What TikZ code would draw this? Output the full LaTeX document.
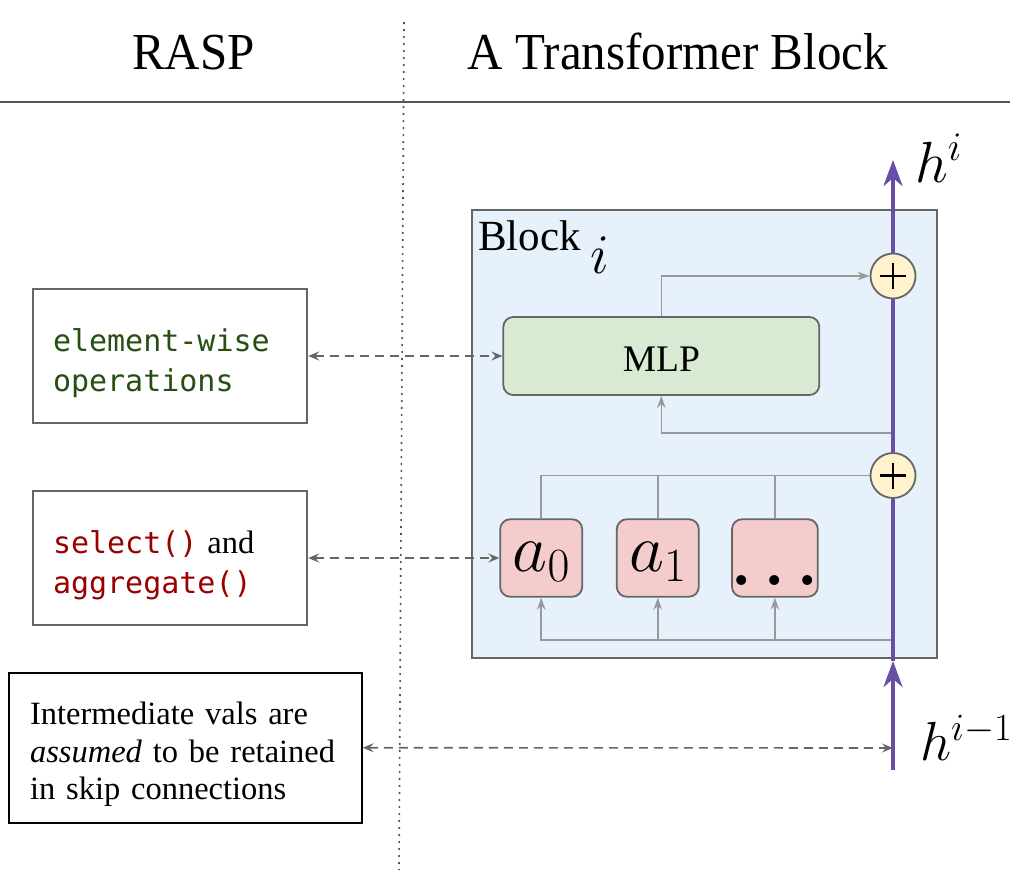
\RequirePackage{fix-cm}
\documentclass[tikz,border=0pt]{standalone}
\usepackage{fontspec}
\setmainfont{Liberation Serif}
\setmonofont{DejaVu Sans Mono}
\usetikzlibrary{arrows.meta}
\pgfdeclarelayer{bg}
\pgfsetlayers{bg,main}
\definecolor{blockfill}{HTML}{E7F1FB}
\definecolor{mlpfill}{HTML}{D9EAD3}
\definecolor{attnfill}{HTML}{F4CCCC}
\definecolor{plusfill}{HTML}{FFF2CC}
\definecolor{bordergray}{HTML}{666666}
\definecolor{conngray}{HTML}{999999}
\definecolor{dashgray}{HTML}{666666}
\definecolor{linegray}{HTML}{555555}
\definecolor{residpurple}{HTML}{674EA7}
\definecolor{codegreen}{HTML}{274E13}
\definecolor{codered}{HTML}{990000}
\newcommand{\topstrut}[1]{\rule{0pt}{#1}}
\tikzset{
  textbox/.style={draw=bordergray, line width=1.8pt, minimum width=274.6pt, minimum height=134pt,
    inner xsep=20.3pt, inner ysep=0pt, text width=234pt, align=left,
    font=\fontsize{30}{40}\selectfont\ttfamily},
  attn/.style={draw=bordergray, fill=attnfill, rounded corners=10pt, line width=1.8pt,
    minimum width=82pt, minimum height=77.5pt, inner sep=0pt, font=\fontsize{68}{70}\selectfont},
  conn/.style={draw=conngray, line width=1.6pt},
  carrow/.style={-{Stealth[length=12pt,width=8.5pt,inset=4pt]}},
  dashconn/.style={draw=dashgray, line width=1.6pt, dash pattern=on 9pt off 6pt,
    {Stealth[length=11pt,width=9pt,inset=4pt]}-{Stealth[length=11pt,width=9pt,inset=4pt]}},
  resid/.style={draw=residpurple, line width=3.8pt, -{Stealth[length=26pt,width=19pt,inset=8pt]}},
  plusnode/.style={circle, draw=bordergray, fill=plusfill, line width=1.8pt, minimum size=45pt, inner sep=0pt},
  plussign/.style={draw=black, line width=2.8pt},
}
\begin{document}
\begin{tikzpicture}[x=1pt,y=-1pt]
\useasboundingbox (0,0) rectangle (1014,873);

% header
\node[anchor=base, inner sep=0pt, font=\fontsize{49}{55}\selectfont] (rasp) at (193.3,69) {\scalebox{1}[1.06]{RASP}};
\node[anchor=base, inner sep=0pt, font=\fontsize{49}{55}\selectfont] (atb) at (678,69) {\scalebox{1}[1.06]{A Transformer Block}};
\coordinate (hl) at (0,102);
\coordinate (hr) at (1010,102);
\coordinate (dt) at (404,22);
\coordinate (db) at (399,870);

\begin{pgfonlayer}{bg}
  \draw[draw=linegray, line width=2.2pt] (hl) -- (hr);
  \draw[draw=linegray, line width=1.6pt, dash pattern=on 2pt off 5pt] (dt) -- (db);
  \node[draw=bordergray, fill=blockfill, line width=2pt, minimum width=464.5pt,
        minimum height=448pt, inner sep=0pt] (block) at (704.25,434) {};
\end{pgfonlayer}

% block label
\node[anchor=base west, inner sep=0pt, font=\fontsize{43}{48}\selectfont] (blbl) at (478,250) {Block};
\node[anchor=base west, inner sep=0pt, font=\fontsize{56}{60}\selectfont] (bidx) at (590,273) {$i$};

% MLP and attention heads
\node[draw=bordergray, fill=mlpfill, rounded corners=10pt, line width=1.8pt, minimum width=316pt,
      minimum height=78pt, inner sep=0pt, text height=31.4pt, text depth=0pt,
      font=\fontsize{37.5}{40}\selectfont] (mlp) at (661.3,356) {MLP};
\node[attn, text height=40pt, text depth=12.6pt] (a0) at (541.2,558) {$a_0$};
\node[attn, text height=40pt, text depth=12.6pt] (a1) at (657.8,558) {$a_1$};
\node[attn, text height=60pt, text depth=6pt, font=\fontsize{64}{66}\selectfont\boldmath] (adots) at (774.9,558) {$\ldots$};

% residual stream
\coordinate (hb) at (893,770);
\coordinate (hm) at (893,661);
\coordinate (ht) at (893,160);
\coordinate (fb) at (893,433);
\coordinate (bb) at (893,640);
\coordinate (hd) at (893,748);

\node[plusnode] (p2) at (893,276) {};
\node[plusnode] (p1) at (893,475.5) {};
\draw[plussign] ([xshift=-13pt]p2.center) -- ([xshift=13pt]p2.center);
\draw[plussign] ([yshift=-13pt]p2.center) -- ([yshift=13pt]p2.center);
\draw[plussign] ([xshift=-13pt]p1.center) -- ([xshift=13pt]p1.center);
\draw[plussign] ([yshift=-13pt]p1.center) -- ([yshift=13pt]p1.center);

\begin{pgfonlayer}{bg}
  \draw[conn, carrow] (mlp.north) |- (p2.west);
  \draw[conn, carrow] (fb) -| (mlp.south);
  \draw[conn] (a0.north) |- (p1.west);
  \draw[conn] (a1.north) -- (a1.north |- p1.west);
  \draw[conn] (adots.north) -- (adots.north |- p1.west);
  \draw[conn, carrow] (bb) -| (a0.south);
  \draw[conn, carrow] (a1.south |- bb) -- (a1.south);
  \draw[conn, carrow] (adots.south |- bb) -- (adots.south);
  \draw[resid] (hb) -- (hm);
  \draw[resid] (hm) -- (ht);
\end{pgfonlayer}

\node[anchor=base west, inner sep=0pt, font=\fontsize{58}{60}\selectfont] (hi) at (915,182) {$h^i$};
\node[anchor=base west, inner sep=0pt, font=\fontsize{55}{60}\selectfont] (him) at (920,760) {$h^{i-1}$};

% RASP side boxes
\node[textbox] (eb) at (170,356) {\topstrut{38pt}\color{codegreen}element-wise\\operations};
\node[textbox] (sb) at (170,558) {\topstrut{38pt}{\color{codered}select() }{\rmfamily\fontsize{32.5}{40}\selectfont and}\\{\color{codered}aggregate()}};
\node[draw=black, line width=1.8pt, minimum width=352.4pt, minimum height=150pt, inner xsep=20.7pt,
      inner ysep=0pt, text width=311pt, align=left, font=\fontsize{32.5}{37.5}\selectfont] (ib) at (185.5,747.7)
      {\topstrut{36pt}Intermediate vals are\\\textit{assumed} to be retained\\in skip connections};

% dashed correspondences
\draw[dashconn] (eb.east) -- (mlp.west);
\draw[dashconn] (sb.east) -- (a0.west);
\draw[dashconn] (ib.east) -- (hd);
\end{tikzpicture}
\end{document}
